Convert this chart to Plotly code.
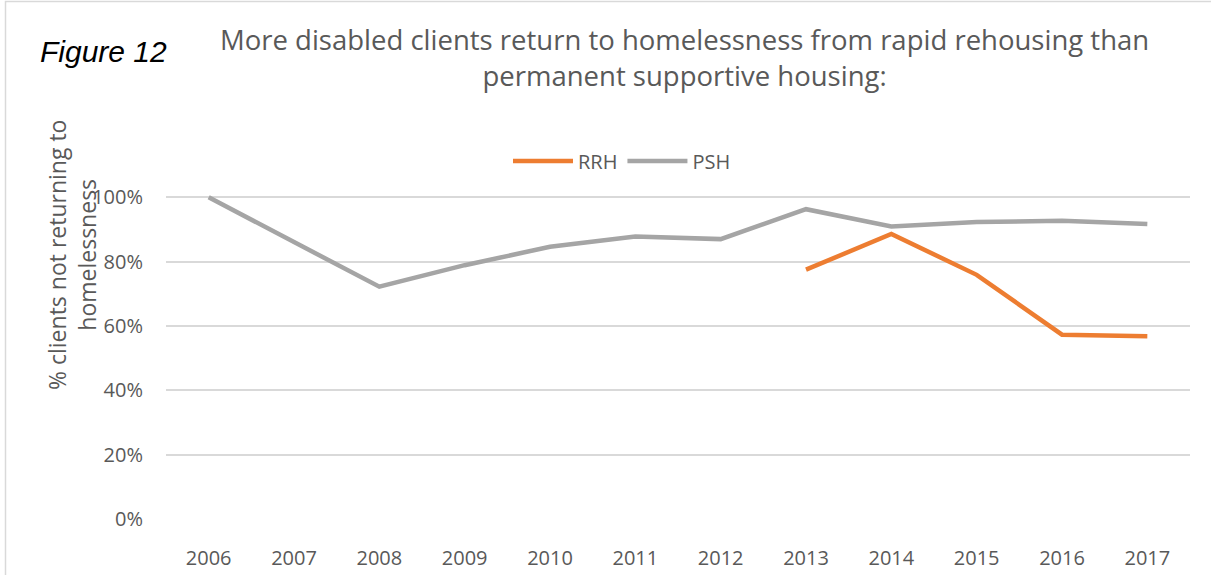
import plotly.graph_objects as go

years = [2006, 2007, 2008, 2009, 2010, 2011, 2012, 2013, 2014, 2015, 2016, 2017]
psh = [1.00, 0.862, 0.722, 0.789, 0.846, 0.878, 0.870, 0.963, 0.909, 0.923, 0.927, 0.917]
rrh_years = [2013, 2014, 2015, 2016, 2017]
rrh = [0.775, 0.886, 0.759, 0.573, 0.568]
y_ticks = [0, 0.2, 0.4, 0.6, 0.8, 1.0]
y_tick_labels = ["0%", "20%", "40%", "60%", "80%", "100%"]

W, H = 1211, 575
L, R, T, B = 166, 21, 191, 56
pw, ph = W - L - R, H - T - B

def px_x(p):
    return (p - L) / pw

def px_y(p):
    return (H - B - p) / ph

TXT = "#595959"
FONT = "Open Sans"

fig = go.Figure()
fig.add_trace(go.Scatter(x=rrh_years, y=rrh, name="RRH", mode="lines",
                         line=dict(color="#ED7D31", width=4.5)))
fig.add_trace(go.Scatter(x=years, y=psh, name="PSH", mode="lines",
                         line=dict(color="#A5A5A5", width=4.5)))

fig.update_layout(
    width=W, height=H,
    margin=dict(l=L, r=R, t=T, b=B, autoexpand=False),
    paper_bgcolor="white", plot_bgcolor="white",
    font=dict(family=FONT, color=TXT, size=20),
    showlegend=True,
    legend=dict(orientation="h", x=px_x(622), y=px_y(161), xanchor="center", yanchor="middle",
                font=dict(size=20, color=TXT), bgcolor="rgba(0,0,0,0)", itemwidth=60),
    xaxis=dict(range=[2005.5, 2017.5], tickvals=years, ticktext=[str(y) for y in years],
               showgrid=False, zeroline=False, showline=False, automargin=False,
               ticks="outside", ticklen=21, tickcolor="rgba(0,0,0,0)",
               tickfont=dict(size=20, color=TXT)),
    yaxis=dict(range=[0, ph / 321.7], tickvals=y_ticks, ticktext=y_tick_labels,
               showgrid=True, gridcolor="#D9D9D9", gridwidth=1.5, zeroline=False, showline=False,
               automargin=False,
               ticks="outside", ticklen=18, tickcolor="rgba(0,0,0,0)",
               tickfont=dict(size=20, color=TXT)),
    shapes=[dict(type="rect", xref="paper", yref="paper",
                 x0=px_x(5.5), x1=px_x(1240), y0=px_y(620), y1=px_y(1.5),
                 line=dict(color="#D9D9D9", width=1.5), fillcolor="rgba(0,0,0,0)", layer="below")],
    annotations=[
        dict(text="Figure 12", xref="paper", yref="paper", x=px_x(103), y=px_y(51),
             xanchor="center", yanchor="middle", showarrow=False,
             font=dict(family="Liberation Sans", size=30, color="black", style="italic")),
        dict(text="More disabled clients return to homelessness from rapid rehousing than<br>permanent supportive housing:",
             xref="paper", yref="paper", x=px_x(684), y=px_y(57),
             xanchor="center", yanchor="middle", showarrow=False, align="center",
             font=dict(family=FONT, size=27.5, color=TXT)),
        dict(text="% clients not returning to<br>homelessness", textangle=-90,
             xref="paper", yref="paper", x=px_x(72), y=px_y(255),
             xanchor="center", yanchor="middle", showarrow=False, align="center",
             font=dict(family=FONT, size=23, color=TXT)),
    ],
)

fig.write_html("out.html", config={"displayModeBar": False},
               post_script="document.body.style.margin='0';document.body.style.padding='0';")
